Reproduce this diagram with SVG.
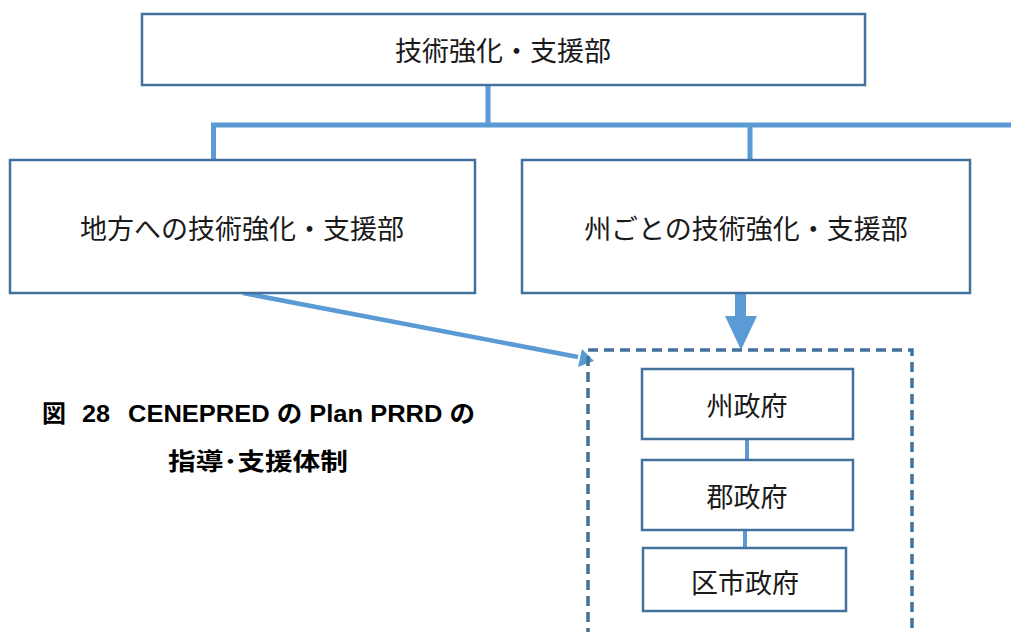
<svg xmlns="http://www.w3.org/2000/svg" width="1011" height="632" viewBox="0 0 1011 632">
<style>
.box{fill:#fff;stroke:#41719C;stroke-width:2.5}
.lbl{font-family:"Noto Sans CJK JP",sans-serif;font-size:27px;fill:#1a1a1a;text-anchor:middle;dominant-baseline:central}
.con{stroke:#5B9BD5;fill:none}
.cap{font-family:"Liberation Sans","Noto Sans CJK JP",sans-serif;font-weight:bold;font-size:24px;fill:#000}
</style>
<rect width="1011" height="632" fill="#fff"/>
<g id="connectors">
<path class="con" stroke-width="5" d="M488 85V125M211 125H1011M213.5 125V160M750 125V160"/>
<path class="con" stroke-width="4" d="M747 439V460M745 530V548"/>
<line class="con" stroke-width="4.5" x1="243" y1="293" x2="578" y2="357"/>
<polygon fill="#5B9BD5" points="594,361 578,367 582,349"/>
<path fill="#5B9BD5" d="M735 293H746V316H757L741 350L725 316H735Z"/>
</g>
<g id="top"><rect class="box" x="142" y="14" width="723" height="71"/><text class="lbl" x="503" y="49">技術強化・支援部</text></g>
<g id="left"><rect class="box" x="10" y="160" width="465" height="133"/><text class="lbl" x="242" y="227">地方への技術強化・支援部</text></g>
<g id="right"><rect class="box" x="522" y="160" width="448" height="133"/><text class="lbl" x="746" y="227">州ごとの技術強化・支援部</text></g>
<g id="group"><rect x="588" y="350" width="324" height="300" fill="none" stroke="#41719C" stroke-width="3.5" stroke-dasharray="10,6"/></g>
<g id="state"><rect class="box" x="642" y="369" width="211" height="70"/><text class="lbl" x="747" y="404">州政府</text></g>
<g id="county"><rect class="box" x="642" y="460" width="211" height="70"/><text class="lbl" x="747" y="495">郡政府</text></g>
<g id="city"><rect class="box" x="643" y="548" width="203" height="63"/><text class="lbl" x="745" y="581">区市政府</text></g>
<g id="caption">
<text class="cap" y="422"><tspan x="42">図</tspan><tspan x="82" textLength="28" lengthAdjust="spacingAndGlyphs">28</tspan><tspan x="128" textLength="347" lengthAdjust="spacingAndGlyphs">CENEPRED の Plan PRRD の</tspan></text>
<text class="cap" x="168" y="470" textLength="180" lengthAdjust="spacingAndGlyphs">指導･支援体制</text>
</g>
</svg>
